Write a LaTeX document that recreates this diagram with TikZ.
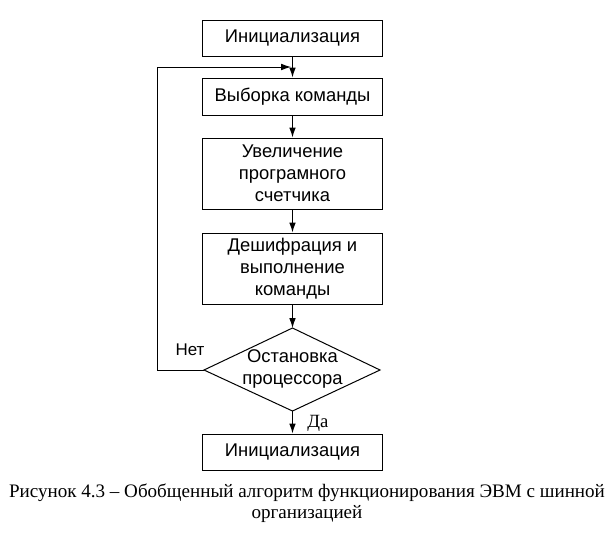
\documentclass[tikz,border=0pt]{standalone}
\usepackage{fontspec}
\setmainfont{Liberation Serif}
\setsansfont{Liberation Sans}
\usetikzlibrary{arrows.meta,shapes.geometric}
\begin{document}
\begin{tikzpicture}[x=0.75pt,y=-0.75pt,
  blk/.style={draw,line width=0.75pt,minimum width=134.5pt,align=center,inner sep=0pt,
     font=\sffamily\fontsize{13.8}{16.5}\selectfont},
  arr/.style={line width=0.75pt,-{Latex[length=7.5pt,width=5pt]}},
  ln/.style={line width=0.75pt}]
\useasboundingbox (0,0) rectangle (610,536);
\node[blk,minimum height=27pt] (b1) at (292.5,38) {Инициализация};
\node[blk,minimum height=27.75pt] (b2) at (292.5,96.5) {Выборка команды};
\node[blk,minimum height=53.25pt] (b3) at (292.5,173.5) {Увеличение\\програмного\\счетчика};
\node[blk,minimum height=53.25pt] (b4) at (292.5,268.5) {Дешифрация и\\выполнение\\команды};
\coordinate (dt) at (292.5,328);
\coordinate (dl) at (204,370);
\coordinate (dr) at (380,370);
\coordinate (db) at (292.5,411);
\draw[ln] (dt) -- (dr) -- (db) -- (dl) -- cycle;
\node[font=\sffamily\fontsize{13.8}{16.5}\selectfont,align=center] (dtext) at (292.5,369) {Остановка\\процессора};
\node[blk,minimum height=27pt] (b5) at (292.5,452) {Инициализация};
\coordinate (lp) at (157,370);
\coordinate (lt) at (157,67);
\coordinate (lm) at (292.5,67);
\draw[arr] (b1.south) -- (b2.north);
\draw[arr] (b2.south) -- (b3.north);
\draw[arr] (b3.south) -- (b4.north);
\draw[arr] (b4.south) -- (dt);
\draw[arr] (db) -- (b5.north);
\draw[arr] (dl) -- (lp) -- (lt) -- ([xshift=-1pt]lm);
\node[font=\sffamily\fontsize{12.7}{14}\selectfont] (net) at (190,350) {Нет};
\node[font=\fontsize{14}{16}\selectfont] (da) at (318,423) {Да};
\node[font=\fontsize{14.3}{15.75}\selectfont,align=center] (cap) at (307,503) {Рисунок 4.3 – Обобщенный алгоритм функционирования ЭВМ с шинной\\организацией};
\end{tikzpicture}
\end{document}
